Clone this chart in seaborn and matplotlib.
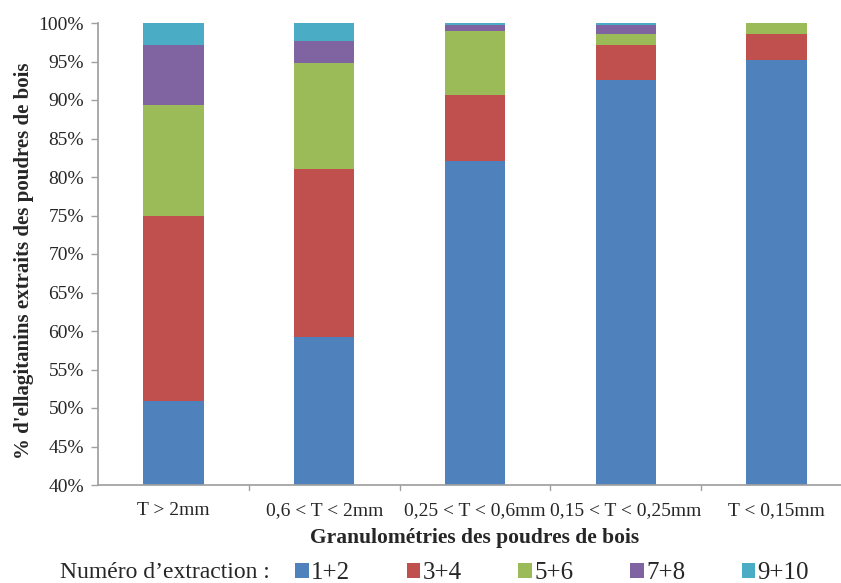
import numpy as np
import pandas as pd
import matplotlib
matplotlib.use("Agg")
import matplotlib.pyplot as plt
from matplotlib.patches import Patch
import seaborn as sns

# Data (% of ellagitannins per extraction pair)
GRANULO = ["T > 2mm", "0,6 < T < 2mm", "0,25 < T < 0,6mm", "0,15 < T < 0,25mm", "T < 0,15mm"]
SERIES = ["1+2", "3+4", "5+6", "7+8", "9+10"]
EXT_12 = [50.9, 59.2, 82.1, 92.6, 95.2]
EXT_34 = [24.1, 21.8, 8.6, 4.6, 3.4]
EXT_56 = [14.4, 13.8, 8.3, 1.4, 1.4]
EXT_78 = [7.7, 2.8, 0.7, 1.1, 0.0]
EXT_910 = [2.9, 2.4, 0.3, 0.3, 0.0]
COLORS = ["#4F81BD", "#C0504D", "#9BBB59", "#8064A2", "#4BACC6"]

sns.set_theme(style="white")
plt.rcParams["font.family"] = ["Liberation Serif", "DejaVu Serif"]

df = pd.DataFrame({"granulo": GRANULO, "1+2": EXT_12, "3+4": EXT_34,
                   "5+6": EXT_56, "7+8": EXT_78, "9+10": EXT_910})
cum = df[SERIES].cumsum(axis=1)

fig = plt.figure(figsize=(8.41, 5.83), dpi=100)
ax = fig.add_axes([98 / 841, 98 / 583, 754 / 841, 462 / 583])

# draw cumulative stacks from top to bottom so lower segments overlay
for s, c in reversed(list(zip(SERIES, COLORS))):
    sns.barplot(x=df["granulo"], y=cum[s], color=c, width=0.4, ax=ax,
                saturation=1, linewidth=0)

ax.set_ylim(40, 100)
ax.set_xlim(-0.5, 4.5)
yt = np.arange(40, 101, 5)
ax.set_yticks(yt)
ax.set_yticklabels([f"{v}%" for v in yt], fontsize=14)
ax.tick_params(axis="x", labelsize=14, length=0, pad=12)
ax.tick_params(axis="y", left=True, length=5, width=1, color="#A0A0A0", pad=5)
for b in np.arange(0.5, 4.6, 1):
    ax.plot([b, b], [40, 39.3], color="#A0A0A0", lw=1, clip_on=False)

sns.despine(ax=ax, top=True, right=True)
ax.spines["left"].set_color("#A0A0A0")
ax.spines["bottom"].set_color("#A0A0A0")
ax.set_xlabel("Granulométries des poudres de bois", fontsize=15.5,
              fontweight="bold", labelpad=7)
ax.set_ylabel("% d'ellagitanins extraits des poudres de bois", fontsize=15,
              fontweight="bold")
ax.yaxis.set_label_coords(-64 / 754, (485 - 261) / 462)

fig.text(60 / 841, 1 - 572 / 583, "Numéro d’extraction :", fontsize=17, va="center")
handles = [Patch(facecolor=c, edgecolor="none") for c in COLORS]
fig.legend(handles, SERIES, ncol=5, frameon=False, fontsize=18,
           loc="center left", bbox_to_anchor=(295 / 841, 1 - 573 / 583),
           handlelength=0.55, handleheight=0.55, handletextpad=0.1,
           columnspacing=2.25, borderaxespad=0, borderpad=0)

fig.savefig("out.png", dpi=100)
